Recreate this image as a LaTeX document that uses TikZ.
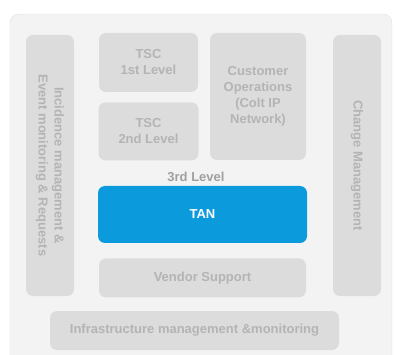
\documentclass[tikz,border=0pt]{standalone}
\usepackage{fontspec}
\setmainfont{Liberation Sans}
\usepackage{tikz}
\usetikzlibrary{positioning}
\definecolor{panelgray}{HTML}{F3F3F3}
\definecolor{boxgray}{HTML}{DCDCDC}
\definecolor{txtgray}{HTML}{B4B4B4}
\definecolor{lvlgray}{HTML}{A0A0A0}
\definecolor{tanblue}{HTML}{0B9BDC}
\begin{document}
\begin{tikzpicture}[
    x=1pt, y=-1pt,
    font=\fontsize{13}{16}\selectfont\bfseries,
    node distance=10pt,
    block/.style={fill=boxgray, rounded corners=7pt, text=txtgray, align=center, inner sep=0pt},
    sidebar/.style={block, minimum width=48pt, minimum height=261pt},
    wide/.style={block, minimum width=207pt, minimum height=39pt}
]
\useasboundingbox (0,0) rectangle (396,355);
\draw[draw=black!12, fill=panelgray, rounded corners=9pt] (10,14) rectangle (392,370);

\node[sidebar] (incid) at (50,165.5) {};
\node[rotate=-90, text=txtgray, align=center] at (incid.center) {Incidence management \&\\Event monitoring \& Requests};
\node[sidebar] (change) at (357,165.5) {};
\node[rotate=-90, text=txtgray] at (change.center) {Change Management};

\node[block, minimum width=99pt, minimum height=59pt] (tsc1) at (148.5,62.5) {TSC\\1st Level};
\node[block, minimum width=100pt, minimum height=58pt, below=10pt of tsc1] (tsc2) {TSC\\2nd Level};
\node[block, minimum width=96pt, minimum height=127pt] (custops) at (258,96.5) {Customer\\Operations\\(Colt IP\\Network)};

\node[text=lvlgray] (lvl3) at (196,177) {3rd Level};
\node[block, fill=tanblue, text=white, minimum width=209pt, minimum height=57pt] (tan) at (202.5,214.5) {TAN};
\node[wide, below=15pt of tan] (vendor) {Vendor Support};
\node[wide, minimum width=289pt] (infra) at (194.5,330.5) {Infrastructure management \&monitoring};
\end{tikzpicture}
\end{document}
